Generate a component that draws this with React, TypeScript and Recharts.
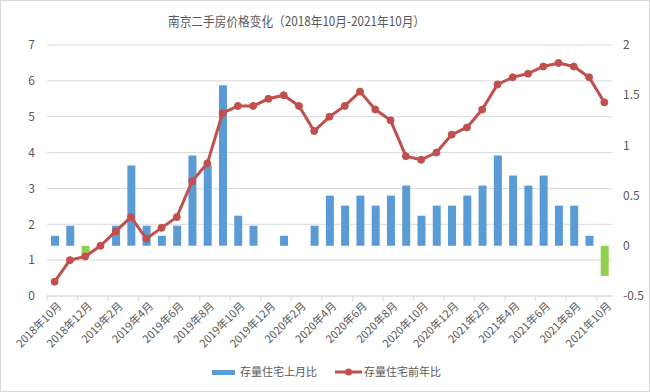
import React from 'react';
import { ComposedChart, Bar, Line, Cell, XAxis, YAxis, CartesianGrid } from 'recharts';

const months = [
  '2018年10月', '2018年11月', '2018年12月',
  '2019年1月', '2019年2月', '2019年3月', '2019年4月', '2019年5月', '2019年6月',
  '2019年7月', '2019年8月', '2019年9月', '2019年10月', '2019年11月', '2019年12月',
  '2020年1月', '2020年2月', '2020年3月', '2020年4月', '2020年5月', '2020年6月',
  '2020年7月', '2020年8月', '2020年9月', '2020年10月', '2020年11月', '2020年12月',
  '2021年1月', '2021年2月', '2021年3月', '2021年4月', '2021年5月', '2021年6月',
  '2021年7月', '2021年8月', '2021年9月', '2021年10月',
];

// 存量住宅上月比 (right axis)
const momValues = [
  0.1, 0.2, -0.1,
  0, 0.2, 0.8, 0.2, 0.1, 0.2,
  0.9, 0.8, 1.6, 0.3, 0.2, 0,
  0.1, 0, 0.2, 0.5, 0.4, 0.5,
  0.4, 0.5, 0.6, 0.3, 0.4, 0.4,
  0.5, 0.6, 0.9, 0.7, 0.6, 0.7,
  0.4, 0.4, 0.1, -0.3,
];

// 存量住宅前年比 (left axis)
const yoyValues = [
  0.4, 1.0, 1.1,
  1.4, 1.8, 2.2, 1.6, 1.9, 2.2,
  3.2, 3.7, 5.1, 5.3, 5.3, 5.5,
  5.6, 5.3, 4.6, 5.0, 5.3, 5.7,
  5.2, 4.9, 3.9, 3.8, 4.0, 4.5,
  4.7, 5.2, 5.9, 6.1, 6.2, 6.4,
  6.5, 6.4, 6.1, 5.4,
];

const leftTicks = [0, 1, 2, 3, 4, 5, 6, 7];
const rightTicks = [-0.5, 0, 0.5, 1, 1.5, 2];

const data = months.map((m, i) => ({ month: m, mom: momValues[i], yoy: yoyValues[i] }));

const BLUE = '#5B9BD5';
const GREEN = '#92D050';
const RED = '#C0504D';
const TEXT = '#595959';
const GRID = '#d9d9d9';
const FONT = '"Noto Sans CJK SC", "Noto Sans", sans-serif';

const PLOT_LEFT = 47;
const PLOT_RIGHT = 612;
const band = (PLOT_RIGHT - PLOT_LEFT) / months.length;

const XTick = (props: any) => {
  const { x, y, payload } = props;
  const axisY = y - 8;
  const tx = x + 5;
  const ty = y;
  return (
    <g>
      <line x1={x - band / 2} x2={x - band / 2} y1={axisY} y2={axisY + 5} stroke={GRID} />
      <text
        x={tx}
        y={ty}
        dy="0.35em"
        textAnchor="end"
        transform={`rotate(-45 ${tx} ${ty})`}
        fontSize={11}
        fill={TEXT}
        fontFamily={FONT}
      >
        {payload.value}
      </text>
    </g>
  );
};

export default function App() {
  return (
    <div style={{ position: 'absolute', left: 0, top: 0, width: 650, height: 392, background: '#fff', fontFamily: FONT }}>
      <div style={{ position: 'absolute', left: 0, top: 0, width: 650, height: 392, border: `1px solid ${GRID}`, boxSizing: 'border-box' }} />
      <svg width={650} height={392} style={{ position: 'absolute', left: 0, top: 0 }}>
        <text
          x={168}
          y={21}
          dy="0.35em"
          fontSize={13}
          fill={TEXT}
          fontFamily={FONT}
          textLength={257}
          lengthAdjust="spacingAndGlyphs"
        >
          南京二手房价格变化（2018年10月-2021年10月）
        </text>
      </svg>
      <div style={{ position: 'absolute', left: 0, top: 0 }}>
        <ComposedChart width={650} height={392} data={data} margin={{ top: 45, right: 0, left: 0, bottom: 36 }}>
          <CartesianGrid yAxisId="left" vertical={false} stroke={GRID} />
          <XAxis
            dataKey="month"
            interval={1}
            height={60}
            tickLine={false}
            tickSize={6}
            tickMargin={2}
            axisLine={{ stroke: GRID }}
            tick={<XTick />}
          />
          <YAxis
            yAxisId="left"
            orientation="left"
            width={PLOT_LEFT}
            domain={[0, 7]}
            ticks={leftTicks}
            axisLine={false}
            tickLine={false}
            tickMargin={6}
            tick={{ fontSize: 12, fill: TEXT, fontFamily: FONT }}
          />
          <YAxis
            yAxisId="right"
            orientation="right"
            width={650 - PLOT_RIGHT}
            domain={[-0.5, 2]}
            ticks={rightTicks}
            axisLine={false}
            tickLine={false}
            tickMargin={5}
            tick={{ fontSize: 12, fill: TEXT, fontFamily: FONT }}
          />
          <Bar yAxisId="right" dataKey="mom" barSize={8} isAnimationActive={false}>
            {data.map((d, i) => (
              <Cell key={`c-${i}`} fill={d.mom < 0 ? GREEN : BLUE} />
            ))}
          </Bar>
          <Line
            yAxisId="left"
            type="linear"
            dataKey="yoy"
            stroke={RED}
            strokeWidth={3}
            dot={{ r: 3.5, fill: RED, stroke: RED, strokeWidth: 1 }}
            isAnimationActive={false}
          />
        </ComposedChart>
      </div>
      <svg width={650} height={392} style={{ position: 'absolute', left: 0, top: 0, pointerEvents: 'none' }}>
        <rect x={212} y={370} width={23} height={5} fill={BLUE} />
        <text x={240} y={372} dy="0.35em" fontSize={11} fill={TEXT} fontFamily={FONT}>存量住宅上月比</text>
        <line x1={335} x2={362} y1={372} y2={372} stroke={RED} strokeWidth={3} />
        <circle cx={348.5} cy={372} r={3.5} fill={RED} />
        <text x={364} y={372} dy="0.35em" fontSize={11} fill={TEXT} fontFamily={FONT}>存量住宅前年比</text>
      </svg>
    </div>
  );
}
